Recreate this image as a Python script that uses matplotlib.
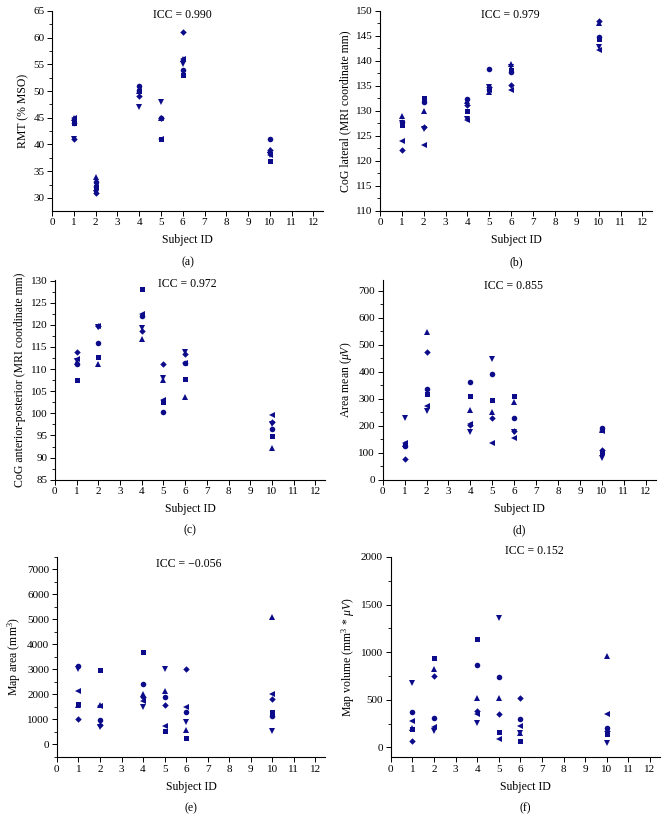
import matplotlib
matplotlib.use("Agg")
import matplotlib.pyplot as plt
from matplotlib.ticker import MultipleLocator

plt.rcParams['font.family'] = ['Liberation Serif', 'DejaVu Serif']
plt.rcParams['mathtext.fontset'] = 'custom'
plt.rcParams['mathtext.rm'] = 'Liberation Serif'
plt.rcParams['mathtext.it'] = 'Liberation Serif:italic'

# subjects and the six repeated sessions (one marker each)
subjects = [1, 2, 4, 5, 6, 10]
markers = ['s', 'o', '^', 'v', 'D', '<']
msizes = [3.6, 4.0, 4.4, 4.4, 3.3, 4.4]

# values per session: [square, circle, up, down, diamond, left], per subject
rmt = [
    [44, 32, 50, 41, 53, 37],
    [44, 33, 51, 45, 54, 41],
    [45, 34, 50, 45, 56, 39],
    [41, 31, 47, 48, 55, 38],
    [41, 31, 49, 45, 61, 39],
    [45, 32, 50, 41, 56, 38],
]
cog_lat = [
    [127.2, 132.6, 129.9, 134.4, 138.1, 144.4],
    [127.8, 131.8, 132.3, 138.3, 137.7, 144.7],
    [129.0, 129.9, 131.9, 133.7, 139.3, 147.5],
    [127.5, 126.4, 128.4, 134.8, 138.8, 142.7],
    [122.1, 126.8, 131.1, 134.7, 135.2, 147.9],
    [123.9, 123.1, 128.1, 134.2, 134.2, 142.1],
]
cog_ap = [
    [107.5, 112.8, 128.2, 102.5, 107.8, 94.8],
    [111.2, 116.0, 122.0, 100.2, 111.3, 96.5],
    [111.6, 111.1, 116.7, 107.5, 103.8, 92.2],
    [111.9, 119.5, 119.2, 107.9, 113.9, 97.6],
    [113.9, 119.8, 118.5, 111.2, 113.4, 98.1],
    [112.2, 119.7, 122.4, 103.0, 111.4, 99.6],
]
area_mean = [
    [128, 319, 310, 294, 308, 104],
    [125, 334, 362, 393, 228, 191],
    [132, 546, 259, 252, 288, 185],
    [229, 253, 176, 446, 176, 81],
    [78, 473, 203, 228, 179, 110],
    [135, 271, 206, 135, 156, 181],
]
map_area = [
    [1600, 2994, 3700, 532, 266, 1304],
    [3130, 971, 2435, 1903, 1304, 1131],
    [1580, 1570, 2000, 2143, 572, 5084],
    [3020, 705, 1504, 3034, 905, 546],
    [1000, 772, 1903, 1570, 3008, 1810],
    [2140, 1557, 1730, 745, 1504, 2036],
]
map_volume = [
    [194, 944, 1134, 158, 72, 141],
    [370, 306, 863, 739, 294, 204],
    [201, 827, 518, 518, 152, 961],
    [676, 176, 261, 1356, 150, 42],
    [70, 746, 380, 352, 524, 176],
    [275, 218, 352, 88, 229, 352],
]

panels = [
    (rmt, 'RMT (% MSO)', 'ICC = 0.990', '(a)', (27.6, 65), 5, 30, 65),
    (cog_lat, 'CoG lateral (MRI coordinate mm)', 'ICC = 0.979', '(b)', (110, 150), 5, 110, 150),
    (cog_ap, 'CoG anterior-posterior (MRI coordinate mm)', 'ICC = 0.972', '(c)', (85, 130.2), 5, 85, 130),
    (area_mean, r'Area mean ($\mu V$)', 'ICC = 0.855', '(d)', (0, 740), 100, 0, 700),
    (map_area, r'Map area (mm$^3$)', 'ICC = \u22120.056', '(e)', (-500, 7500), 1000, 0, 7000),
    (map_volume, r'Map volume (mm$^3$ * $\mu V$)', 'ICC = 0.152', '(f)', (-100, 2000), 500, 0, 2000),
]

# axes boxes [left, bottom, width, height] in figure fraction
boxes = [
    [0.078, 0.746, 0.405, 0.241],
    [0.568, 0.746, 0.407, 0.241],
    [0.082, 0.422, 0.404, 0.241],
    [0.572, 0.422, 0.408, 0.241],
    [0.085, 0.088, 0.401, 0.241],
    [0.584, 0.088, 0.402, 0.241],
]
icc_y = [0.98, 0.98, 0.978, 0.97, 0.965, 1.03]
icc_x = [0.48, 0.48, 0.49, 0.48, 0.49, 0.535]

color = '#0c0c8a'
fig = plt.figure(figsize=(6.69, 8.30), dpi=100)

for i, (data, ylabel, icc, tag, ylim, step, ymin_t, ymax_t) in enumerate(panels):
    ax = fig.add_axes(boxes[i])
    for vals, m, ms in zip(data, markers, msizes):
        ax.plot(subjects, vals, linestyle='none', marker=m, color=color,
                markersize=ms, markeredgewidth=0)
    ax.set_xlim(0, 12.45)
    ax.set_ylim(*ylim)
    ax.set_xticks(range(0, 13))
    ax.set_yticks(list(range(ymin_t, ymax_t + 1, step)))
    ax.yaxis.set_minor_locator(MultipleLocator(step / 2))
    ax.spines['top'].set_visible(False)
    ax.spines['right'].set_visible(False)
    ax.spines['left'].set_linewidth(0.8)
    ax.spines['bottom'].set_linewidth(0.8)
    ax.tick_params(axis='both', which='major', direction='out', length=3.5,
                   width=0.7, labelsize=8, pad=2)
    ax.tick_params(axis='y', which='minor', direction='out', length=2, width=0.6)
    ax.set_xlabel('Subject ID', fontsize=8.5, labelpad=5)
    ax.set_ylabel(ylabel, fontsize=8.5, labelpad=3)
    ax.text(icc_x[i], icc_y[i], icc, transform=ax.transAxes, ha='center',
            va='center', fontsize=8.5)
    ax.text(0.5, -0.255, tag, transform=ax.transAxes, ha='center',
            va='center', fontsize=8.5)

fig.savefig('out.png', dpi=100)
